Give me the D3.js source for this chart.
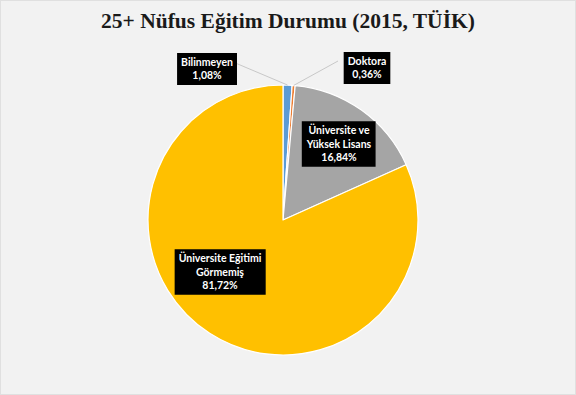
<!DOCTYPE html>
<html>
<head>
<meta charset="utf-8">
<script src="https://cdn.jsdelivr.net/npm/d3@7"></script>
<style>
  html, body { margin: 0; padding: 0; background: #f2f2f2; }
  svg { display: block; }
</style>
</head>
<body>
<div id="chart"></div>
<script>
  // DATA
  var categories = ["Bilinmeyen", "Doktora", "Üniversite ve Yüksek Lisans", "Üniversite Eğitimi Görmemiş"];
  var values = [1.08, 0.36, 16.84, 81.72];
  var labelLines = [["Bilinmeyen"], ["Doktora"], ["Üniversite ve", "Yüksek Lisans"], ["Üniversite Eğitimi", "Görmemiş"]];
  var colours = ["#5b9bd5", "#ed7d31", "#a5a5a5", "#ffc000"];
  var title = "25+ Nüfus Eğitim Durumu (2015, TÜİK)";

  var width = 576, height = 395;
  var cx = 283, cy = 220, radius = 135;

  // where the label boxes sit, relative to the pie centre
  var labelPos = [[-76, -151], [84, -152], [56, -76], [-63, 52]];
  var leader = [true, true, false, false];

  var svg = d3.select("#chart")
    .append("svg")
    .attr("width", width)
    .attr("height", height);

  svg.append("rect")
    .attr("x", 0.5)
    .attr("y", 0.5)
    .attr("width", width - 1)
    .attr("height", height - 1)
    .attr("fill", "#f2f2f2")
    .attr("stroke", "#e0e0e0");

  svg.append("text")
    .attr("x", 288)
    .attr("y", 28)
    .attr("text-anchor", "middle")
    .style("font-family", "'Liberation Serif', 'DejaVu Serif', serif")
    .style("font-weight", "bold")
    .style("font-size", "21.5px")
    .attr("fill", "#1a1a1a")
    .text(title);

  var data = categories.map(function(c, i) {
    return { name: c, value: values[i], lines: labelLines[i], i: i };
  });

  var pie = d3.pie().sort(null).value(function(d) { return d.value; });
  var arc = d3.arc().innerRadius(0).outerRadius(radius);
  var arcs = pie(data);

  var g = svg.append("g")
    .attr("transform", "translate(" + cx + "," + cy + ")");

  g.selectAll("path.slice")
    .data(arcs)
    .enter()
    .append("path")
    .attr("class", "slice")
    .attr("d", arc)
    .attr("fill", function(d) { return colours[d.data.i]; })
    .attr("stroke", "#ffffff")
    .attr("stroke-width", 1.2)
    .attr("stroke-linejoin", "round");

  // leader lines for the thin slices
  g.selectAll("line.leader")
    .data(arcs.filter(function(d) { return leader[d.data.i]; }))
    .enter()
    .append("line")
    .attr("class", "leader")
    .attr("x1", function(d) {
      var a = (d.startAngle + d.endAngle) / 2;
      return Math.sin(a) * radius;
    })
    .attr("y1", function(d) {
      var a = (d.startAngle + d.endAngle) / 2;
      return -Math.cos(a) * radius;
    })
    .attr("x2", function(d) {
      var p = labelPos[d.data.i];
      return p[0] + (p[0] < 0 ? 26 : -29);
    })
    .attr("y2", function(d) { return labelPos[d.data.i][1] - 7; })
    .attr("stroke", "#c8c8c8")
    .attr("stroke-width", 1);

  var lineH = 13.5;
  var labels = g.selectAll("g.label")
    .data(arcs)
    .enter()
    .append("g")
    .attr("class", "label")
    .attr("transform", function(d) {
      var p = labelPos[d.data.i];
      return "translate(" + p[0] + "," + p[1] + ")";
    });

  labels.each(function(d) {
    var lbl = d3.select(this);
    var lines = d.data.lines.concat([d3.format(".2f")(d.data.value).replace(".", ",") + "%"]);
    var txt = lbl.append("text")
      .attr("text-anchor", "middle")
      .attr("fill", "#ffffff")
      .style("font-family", "Lato, 'Open Sans', sans-serif")
      .style("font-weight", "bold")
      .style("font-size", "10.5px");
    var y0 = -(lines.length - 1) * lineH / 2;
    lines.forEach(function(l, k) {
      txt.append("tspan")
        .attr("x", 0)
        .attr("y", y0 + k * lineH)
        .attr("dy", "0.35em")
        .text(l);
    });
    var bb = txt.node().getBBox();
    lbl.insert("rect", "text")
      .attr("x", bb.x - 4)
      .attr("y", y0 - lineH / 2 - 2.5)
      .attr("width", bb.width + 8)
      .attr("height", lines.length * lineH + 5)
      .attr("fill", "#000000");
  });
</script>
</body>
</html>
